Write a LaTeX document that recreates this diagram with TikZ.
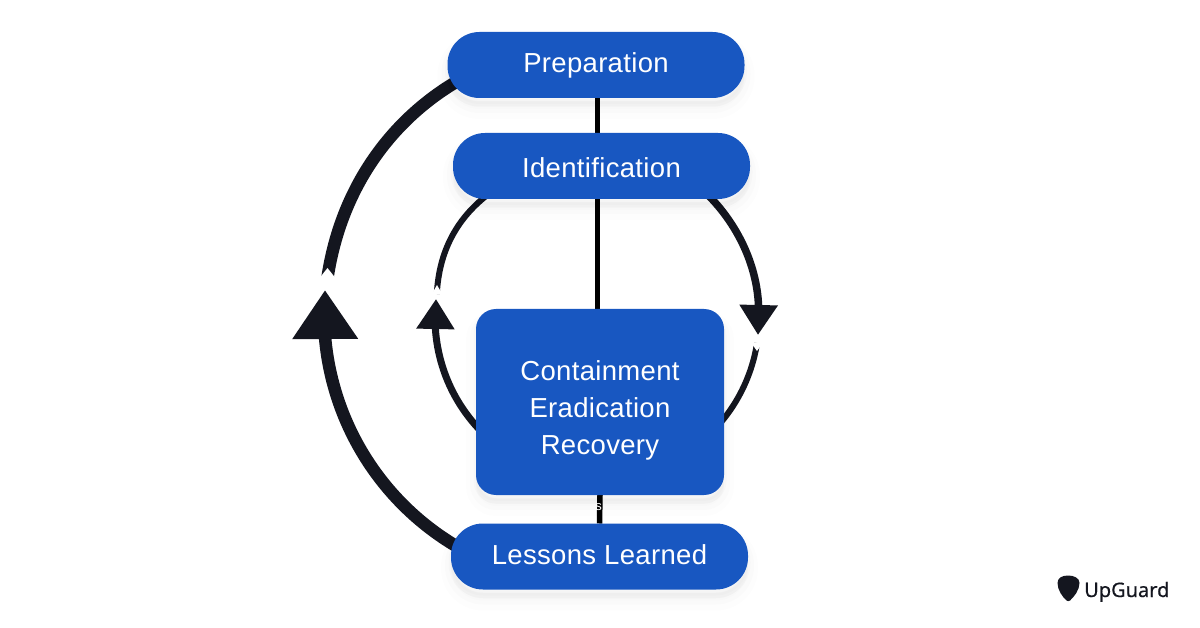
\documentclass[tikz,border=0pt]{standalone}
\usepackage{fontspec}
\setmainfont[LetterSpace=1.2]{Liberation Sans}
\newfontfamily\logofont{Noto Sans}
\usetikzlibrary{arrows.meta,backgrounds}
\definecolor{pillblue}{HTML}{1857C1}
\definecolor{inkdark}{HTML}{14161F}
\tikzset{
  softshadow/.style={
    preaction={draw=black,draw opacity=.008,fill=black,fill opacity=.008,line width=20pt,transform canvas={yshift=-11pt}},
    preaction={draw=black,draw opacity=.012,fill=black,fill opacity=.01,line width=12pt,transform canvas={yshift=-9pt}},
    preaction={draw=black,draw opacity=.016,fill=black,fill opacity=.012,line width=5pt,transform canvas={yshift=-6pt}}},
  stage/.style={softshadow,fill=pillblue,text=white,inner sep=0pt,outer sep=0pt,align=center,font=\fontsize{27.5}{37}\selectfont},
  pill/.style={stage,rounded corners=32pt,minimum width=297pt,minimum height=66pt},
  block/.style={stage,rounded corners=20pt,minimum width=248pt,minimum height=186pt,text width=240pt},
  heavy/.style={draw=inkdark,line width=12.5pt},
  light/.style={draw=inkdark,line width=7pt},
  heavytip/.style={-{Triangle[length=49pt,width=62.5pt]}},
  lighttip/.style={-{Triangle[length=30pt,width=36.5pt]}},
  notch/.style={fill=white,draw=none}
}
\begin{document}
\begin{tikzpicture}[x=1pt,y=-1pt]
\useasboundingbox (0,0) rectangle (1200,628);

\node[pill] (prep) at (596,65) {Preparation};
\node[pill] (iden) at (601.5,166) {\rule{0pt}{23pt}Identification};
\node[block] (core) at (600,402) {\rule{0pt}{37pt}Containment\\Eradication\\Recovery};
\node[pill] (less) at (599.5,556.5) {Lessons Learned\rule[-3pt]{0pt}{3pt}};
\node[text=white,font=\fontsize{13}{13}\selectfont,inner sep=0pt] (frag) at (598.5,507) {s};

\coordinate (outerEnd) at (327.3,279);
\coordinate (outerBase) at (325.2,339);
\coordinate (outerTip) at (325,290);
\coordinate (leftEnd) at (436.8,294);
\coordinate (leftBase) at (435.4,329);
\coordinate (leftTip) at (436,299);
\coordinate (rightBase) at (758.6,307);
\coordinate (rightTip) at (758,335);
\coordinate (rightEnd) at (757.06,343);

\begin{scope}[on background layer]
  \fill[white] (0,0) rectangle (1200,628);
  \draw[draw=black,line width=5pt] ([xshift=1.5pt]prep.south) -- ([xshift=-4pt]iden.north);
  \draw[draw=black,line width=5pt] ([xshift=-4pt]iden.south) -- ([xshift=-2.5pt]core.north);
  \draw[draw=black,line width=5.5pt] (core.south) -- (less.north);

  \draw[heavy] ([shift={(-140,17)}]prep.center) .. controls (387,123.1) and (339.8,192.7) .. (outerEnd);
  \draw[heavy,heavytip] ([shift={(-143.5,-10.5)}]less.center) .. controls (381.8,501.9) and (333.2,424.9) .. (outerBase) -- (outerTip);

  \draw[light,line width=6pt] ([shift={(-115.5,30)}]iden.center) .. controls (456,220) and (439,252) .. (leftEnd);
  \draw[light,lighttip] ([shift={(-114,34)}]core.center) .. controls (456.2,408) and (438.2,369.8) .. (leftBase) -- (leftTip);
  \draw[light,line width=7.5pt,lighttip] ([shift={(106.5,29)}]iden.center) .. controls (735,222) and (757,262) .. (rightBase) -- (rightTip);
  \draw[light,line width=6pt] (rightEnd) .. controls (751.5,378.6) and (734.2,411.3) .. ([shift={(108,34)}]core.center);

  \fill[notch] (327.5,268) -- (318,280) -- (337,280) -- cycle;
  \fill[notch] (437,285) -- (431.5,294.5) -- (442.5,294.5) -- cycle;
  \fill[notch] (757,351) -- (751,342.5) -- (763,342.5) -- cycle;
\end{scope}

\fill[inkdark] (1057.5,583) .. controls (1057.5,578) and (1062,575.5) .. (1068,575.5)
  .. controls (1074,575.5) and (1079.5,578) .. (1079.5,583)
  .. controls (1079.5,590) and (1074,597) .. (1070,600.5)
  .. controls (1069,601.3) and (1067.5,601.3) .. (1066.5,600.5)
  .. controls (1062.5,597) and (1057.5,590) .. (1057.5,583) -- cycle;
\node[anchor=base west,inner sep=0pt,text=inkdark,font=\logofont\fontsize{20}{20}\selectfont\addfontfeatures{FakeBold=0.4}] (brand) at (1084,597) {UpGuard};
\end{tikzpicture}
\end{document}
